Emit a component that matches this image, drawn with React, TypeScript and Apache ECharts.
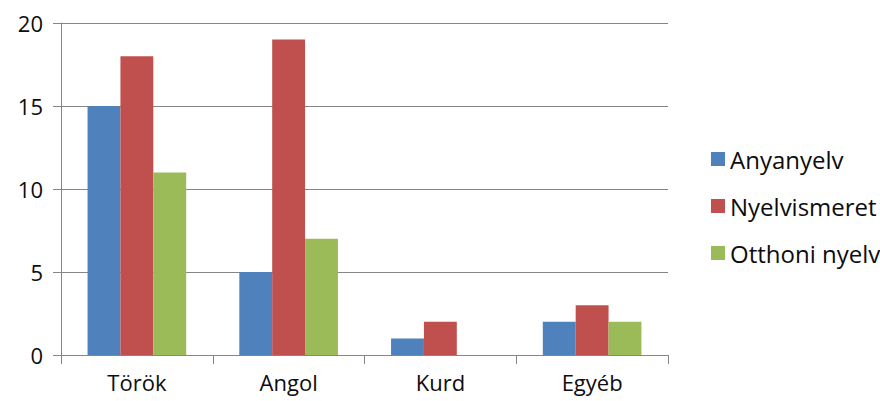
import React, { useEffect, useRef } from "react";
import * as echarts from "echarts";

const categories = ["Török", "Angol", "Kurd", "Egyéb"];
const anyanyelv = [15, 5, 1, 2];
const nyelvismeret = [18, 19, 2, 3];
const otthoniNyelv = [11, 7, 0, 2];
const seriesNames = ["Anyanyelv", "Nyelvismeret", "Otthoni nyelv"];
const colors = ["#4F81BD", "#C0504D", "#9BBB59"];

export default function App() {
  const ref = useRef<HTMLDivElement>(null);
  useEffect(() => {
    if (!ref.current) return;
    const chart = echarts.init(ref.current, undefined, { renderer: "svg" });
    const font = "'Open Sans', 'Liberation Sans', sans-serif";
    const data = [anyanyelv, nyelvismeret, otthoniNyelv];
    chart.setOption({
      animation: false,
      backgroundColor: "#ffffff",
      grid: { left: 61, right: 212, top: 23, bottom: 46, containLabel: false },
      legend: {
        orient: "vertical",
        left: 706,
        top: 142,
        itemWidth: 14,
        itemHeight: 14,
        itemGap: 23,
        icon: "rect",
        data: seriesNames,
        textStyle: { fontSize: 24, color: "#0d0d0d", fontFamily: font },
      },
      xAxis: {
        type: "category",
        data: categories,
        axisLine: { lineStyle: { color: "#868686", width: 1 } },
        axisTick: { show: true, length: 9, lineStyle: { color: "#868686" } },
        axisLabel: { fontSize: 22, color: "#0d0d0d", fontFamily: font, margin: 16 },
      },
      yAxis: {
        type: "value",
        min: 0,
        max: 20,
        interval: 5,
        axisLine: { show: true, lineStyle: { color: "#868686", width: 1 } },
        axisTick: { show: true, length: 8, lineStyle: { color: "#868686" } },
        axisLabel: { fontSize: 22, color: "#0d0d0d", fontFamily: font, margin: 18 },
        splitLine: { lineStyle: { color: "#868686", width: 1 } },
      },
      series: seriesNames.map((name, i) => ({
        name,
        type: "bar",
        data: data[i],
        barGap: "0%",
        barCategoryGap: "35%",
        itemStyle: { color: colors[i] },
      })),
    });
    return () => chart.dispose();
  }, []);
  return <div ref={ref} style={{ position: "fixed", left: 0, top: 0, width: 880, height: 401 }} />;
}
